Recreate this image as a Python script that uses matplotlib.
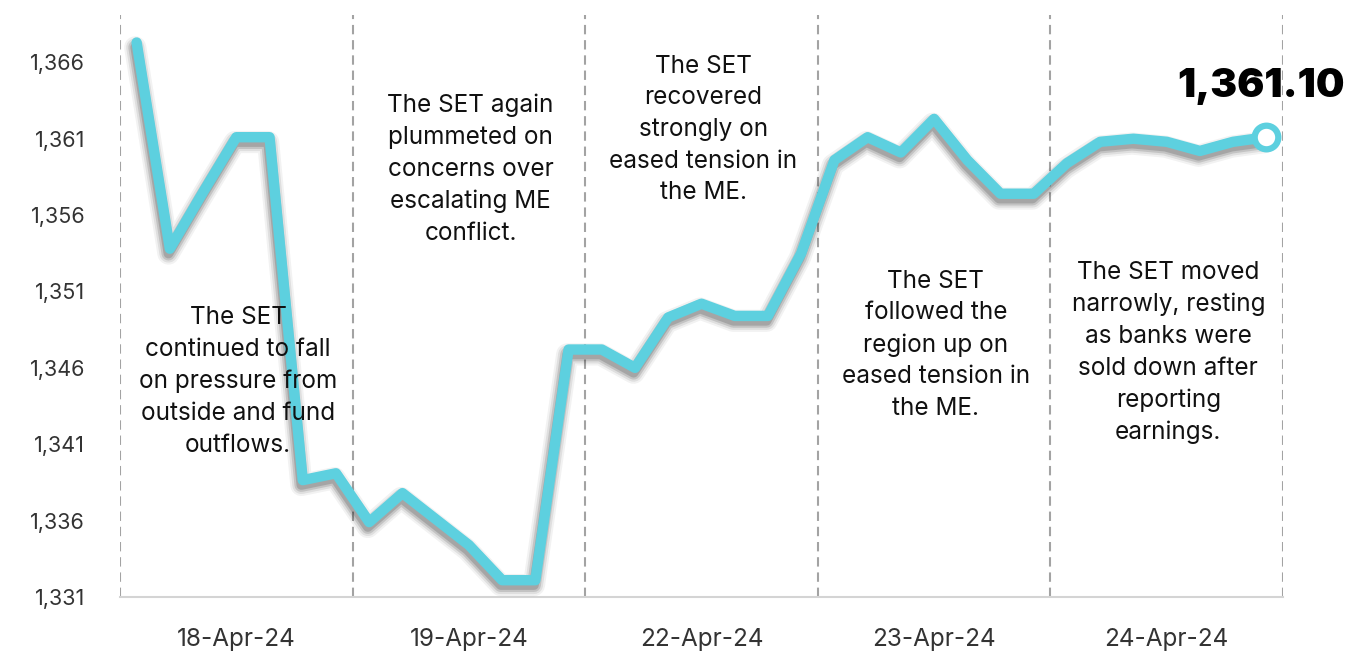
import matplotlib
matplotlib.use("Agg")
import matplotlib.pyplot as plt
import matplotlib.patheffects as pe

# ---- data ----
days = ["18-Apr-24", "19-Apr-24", "22-Apr-24", "23-Apr-24", "24-Apr-24"]
points_per_day = 7
set_index = [
    1367.3, 1353.8, 1357.5, 1361.1, 1361.1, 1338.65, 1339.1,   # 18-Apr
    1335.9, 1337.8, 1336.1, 1334.4, 1332.1, 1332.1, 1347.2,    # 19-Apr
    1347.2, 1346.0, 1349.3, 1350.2, 1349.4, 1349.4, 1353.5,    # 22-Apr
    1359.6, 1361.1, 1360.1, 1362.3, 1359.6, 1357.4, 1357.4,    # 23-Apr
    1359.4, 1360.8, 1361.0, 1360.8, 1360.2, 1360.8, 1361.10,   # 24-Apr
]
y_ticks = [1331, 1336, 1341, 1346, 1351, 1356, 1361, 1366]
last_label = "1,361.10"
notes = [
    "The SET\ncontinued to fall\non pressure from\noutside and fund\noutflows.",
    "The SET again\nplummeted on\nconcerns over\nescalating ME\nconflict.",
    "The SET\nrecovered\nstrongly on\neased tension in\nthe ME.",
    "The SET\nfollowed the\nregion up on\neased tension in\nthe ME.",
    "The SET moved\nnarrowly, resting\nas banks were\nsold down after\nreporting\nearnings.",
]
note_y = [1345.1, 1359.0, 1361.6, 1347.5, 1347.0]

FONT = ["Inter", "DejaVu Sans"]
plt.rcParams["font.family"] = FONT

W, H = 1353, 654
fig = plt.figure(figsize=(W / 100, H / 100), dpi=100)
ax = fig.add_axes([120 / W, (H - 597) / H, (1283 - 120) / W, (597 - 15) / H])

x = list(range(len(set_index)))
line_color = "#5DD0DF"

shadow = [
    pe.SimpleLineShadow(offset=(-1, -3.5), shadow_color="#000000", alpha=0.05, rho=1, linewidth=16),
    pe.SimpleLineShadow(offset=(-1, -3.5), shadow_color="#000000", alpha=0.08, rho=1, linewidth=13),
    pe.SimpleLineShadow(offset=(-1, -3.5), shadow_color="#000000", alpha=0.12, rho=1, linewidth=10),
    pe.SimpleLineShadow(offset=(-1, -3.5), shadow_color="#000000", alpha=0.15, rho=1, linewidth=7),
    pe.Normal(),
]
ax.plot(x, set_index, color=line_color, lw=7.5, solid_joinstyle="round",
        solid_capstyle="round", path_effects=shadow, zorder=3)
ax.plot(x[-1], set_index[-1], marker="o", ms=17, mfc="white", mec=line_color,
        mew=4.5, zorder=4)

n_days = len(days)
bounds = [d * points_per_day - 0.5 for d in range(n_days + 1)]
for b in bounds:
    ax.axvline(b, color="#a3a3a3", lw=1.5, dashes=(4.5, 2.8), zorder=1)

ax.set_xlim(-0.5, n_days * points_per_day - 0.5)
ax.set_ylim(1331, 1369.1)

for s in ["top", "right", "left"]:
    ax.spines[s].set_visible(False)
ax.spines["bottom"].set_color("#d4d4d4")
ax.spines["bottom"].set_linewidth(1.5)

ax.set_yticks(y_ticks)
ax.set_yticklabels([f"{v:,}" for v in y_ticks])
centers = [d * points_per_day + 3 for d in range(n_days)]
ax.set_xticks(centers)
ax.set_xticklabels(days)
ax.tick_params(axis="y", length=0, pad=25, labelsize=15.5, labelcolor="#333333")
ax.tick_params(axis="x", length=0, pad=22, labelsize=17.5, labelcolor="#333333")

for c, txt, yy in zip(centers, notes, note_y):
    ax.text(c + 0.05, yy, txt, ha="center", va="center", fontsize=17.5,
            color="#111111", linespacing=1.48, zorder=5)

ax.text(x[-1] - 0.17, set_index[-1] + 3.3, last_label, ha="center", va="center",
        fontsize=29, fontweight="black", color="#000000", zorder=6)

fig.savefig("out.png", dpi=100)
